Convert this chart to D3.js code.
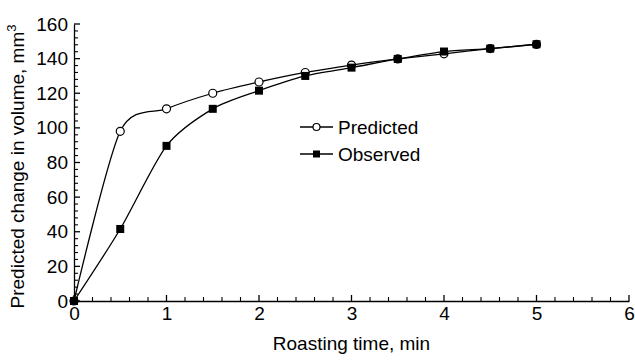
<html>
<head>
  <meta charset="UTF-8">
  <title>Roasting time vs volume</title>
  <script src="https://d3js.org/d3.v7.min.js"></script>
  <style>
    body { margin: 0; background: #fff; }
    text { font-family: "Liberation Sans", Arial, sans-serif; fill: #000; }
  </style>
</head>
<body>
  <svg id="chart" width="635" height="360"></svg>
  <script>
    // data
    const times = [0, 0.5, 1, 1.5, 2, 2.5, 3, 3.5, 4, 4.5, 5];
    const predicted = [0, 98, 111, 120, 126.5, 132, 136.3, 139.8, 142.8, 145.8, 148.2];
    const observed = [0, 41.6, 89.6, 111, 121.5, 130, 134.8, 139.8, 144.1, 145.8, 148.3];
    const xTicks = [0, 1, 2, 3, 4, 5, 6];
    const yTicks = [0, 20, 40, 60, 80, 100, 120, 140, 160];

    const svg = d3.select("#chart");
    const width = +svg.attr("width");
    const height = +svg.attr("height");
    const margin = { top: 24, right: 6, bottom: 59, left: 74 };
    const fontSize = 19;

    const x = d3.scaleLinear([0, 6], [margin.left, width - margin.right]);
    const y = d3.scaleLinear([0, 160], [height - margin.bottom, margin.top]);

    // minor ticks
    const xMinor = d3.range(0, 6.001, 0.2).filter(v => Math.abs(v - Math.round(v)) > 1e-6);
    const yMinor = d3.range(0, 160.001, 4).filter(v => v % 20 !== 0);

    const gx = svg.append("g").attr("transform", `translate(0,${y(0)})`);
    gx.call(d3.axisBottom(x).tickValues(xTicks).tickSize(0).tickPadding(6).tickFormat(d3.format("d")));
    gx.selectAll("text").attr("font-size", fontSize).attr("font-family", null);
    gx.select(".domain").attr("stroke-width", 1.3);
    gx.selectAll("line.maj").data(xTicks).join("line").attr("class", "maj")
      .attr("x1", d => x(d)).attr("x2", d => x(d)).attr("y1", 0).attr("y2", -6)
      .attr("stroke", "#000").attr("stroke-width", 1.3);
    gx.selectAll("line.min").data(xMinor).join("line").attr("class", "min")
      .attr("x1", d => x(d)).attr("x2", d => x(d)).attr("y1", 0).attr("y2", -4)
      .attr("stroke", "#000").attr("stroke-width", 1.1);

    const gy = svg.append("g").attr("transform", `translate(${x(0)},0)`);
    gy.call(d3.axisLeft(y).tickValues(yTicks).tickSize(0).tickPadding(6));
    gy.selectAll("text").attr("font-size", fontSize).attr("font-family", null);
    gy.select(".domain").attr("stroke-width", 1.3);
    gy.selectAll("line.maj").data(yTicks).join("line").attr("class", "maj")
      .attr("y1", d => y(d)).attr("y2", d => y(d)).attr("x1", 0).attr("x2", 6)
      .attr("stroke", "#000").attr("stroke-width", 1.3);
    gy.selectAll("line.min").data(yMinor).join("line").attr("class", "min")
      .attr("y1", d => y(d)).attr("y2", d => y(d)).attr("x1", 0).attr("x2", 4)
      .attr("stroke", "#000").attr("stroke-width", 1.1);

    // axis titles
    svg.append("text")
      .attr("x", (x(0) + x(6)) / 2).attr("y", 350)
      .attr("text-anchor", "middle").attr("font-size", fontSize)
      .text("Roasting time, min");

    const yt = svg.append("text")
      .attr("transform", `translate(24,${(y(0) + y(160)) / 2 + 4}) rotate(-90)`)
      .attr("text-anchor", "middle").attr("font-size", fontSize);
    yt.append("tspan").text("Predicted change in volume, mm");
    yt.append("tspan").attr("font-size", 13).attr("dy", -8).text("3");

    // series (smoothed like a spreadsheet line)
    const line = d3.line().curve(d3.curveCardinal.tension(0.2))
      .x(d => x(d[0])).y(d => y(d[1]));
    const predPts = times.map((t, i) => [t, predicted[i]]);
    const obsPts = times.map((t, i) => [t, observed[i]]);

    svg.append("path").attr("d", line(predPts)).attr("fill", "none")
      .attr("stroke", "#000").attr("stroke-width", 1.3);
    svg.append("path").attr("d", line(obsPts)).attr("fill", "none")
      .attr("stroke", "#000").attr("stroke-width", 1.3);

    svg.selectAll("circle.pred").data(predPts).join("circle").attr("class", "pred")
      .attr("cx", d => x(d[0])).attr("cy", d => y(d[1])).attr("r", 4)
      .attr("fill", "#fff").attr("stroke", "#000").attr("stroke-width", 1.2);
    const sq = 8;
    svg.selectAll("rect.obs").data(obsPts).join("rect").attr("class", "obs")
      .attr("x", d => x(d[0]) - sq / 2).attr("y", d => y(d[1]) - sq / 2)
      .attr("width", sq).attr("height", sq).attr("fill", "#000");

    // legend
    const legend = svg.append("g").attr("transform", "translate(300,127)");
    const items = ["Predicted", "Observed"];
    items.forEach((name, i) => {
      const g = legend.append("g").attr("transform", `translate(0,${i * 27})`);
      g.append("line").attr("x1", 0).attr("x2", 33).attr("y1", 0).attr("y2", 0)
        .attr("stroke", "#000").attr("stroke-width", 1.3);
      if (i === 0) {
        g.append("circle").attr("cx", 16.5).attr("cy", 0).attr("r", 3.5)
          .attr("fill", "#fff").attr("stroke", "#000").attr("stroke-width", 1.2);
      } else {
        g.append("rect").attr("x", 16.5 - 3.5).attr("y", -3.5).attr("width", 7).attr("height", 7)
          .attr("fill", "#000");
      }
      g.append("text").attr("x", 38).attr("y", 0).attr("dy", "0.35em")
        .attr("font-size", fontSize).text(name);
    });
  </script>
</body>
</html>
